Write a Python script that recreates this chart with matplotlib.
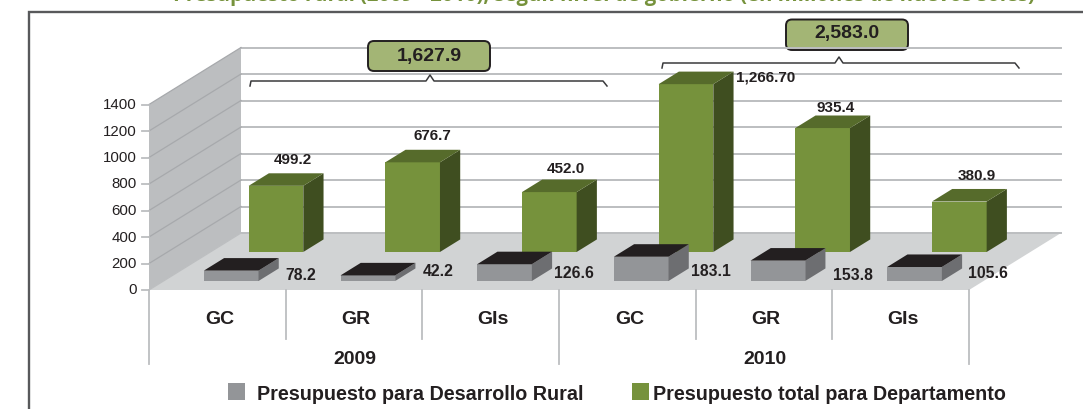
import matplotlib
matplotlib.use("Agg")
import matplotlib.pyplot as plt
from matplotlib.patches import Polygon, Rectangle, FancyBboxPatch

plt.rcParams['font.family'] = ['Liberation Sans', 'DejaVu Sans']

# ---- data ----
years = ['2009', '2010']
categories = ['GC', 'GR', 'GIs', 'GC', 'GR', 'GIs']
rural = [78.2, 42.2, 126.6, 183.1, 153.8, 105.6]
total = [499.2, 676.7, 452.0, 1266.70, 935.4, 380.9]
rural_labels = ['78.2', '42.2', '126.6', '183.1', '153.8', '105.6']
total_labels = ['499.2', '676.7', '452.0', '1,266.70', '935.4', '380.9']
y_ticks = [0, 200, 400, 600, 800, 1000, 1200, 1400]
totals_by_year = ['1,627.9', '2,583.0']
series_names = ['Presupuesto para Desarrollo Rural', 'Presupuesto total para Departamento']
title = 'Presupuesto rural (2009 - 2010), según nivel de gobierno (en millones de nuevos soles)'

# ---- colours ----
GREEN = ('#76923c', '#3f4e20', '#566b2b')
GREY = ('#939598', '#6d6e71', '#231f20')
TXT = '#231f20'
GRID = '#bcbec0'

# ---- oblique projection: slot position, value, depth -> figure pixels ----
X0, Y0, SLOT, PX_PER_UNIT, DEPTH_X, DEPTH_Y = 149, 290, 136.67, 0.1325, 92, 57
YMAX = y_ticks[-1]


def proj(slot, value=0, depth=0):
    return (X0 + SLOT * slot + DEPTH_X * depth, Y0 - PX_PER_UNIT * value - DEPTH_Y * depth)


fig = plt.figure(figsize=(10.83, 4.09), dpi=100)
ax = fig.add_axes([0, 0, 1, 1])
ax.set_xlim(0, 1083)
ax.set_ylim(409, 0)
ax.axis('off')

# frame and clipped title
ax.plot([1083, 29, 29], [11.5, 11.5, 409], color='#58595b', lw=1.7, zorder=1, solid_joinstyle='miter')
ax.text(1035, 0.8, title, color='#76923c', fontsize=14.6, fontweight='bold', ha='right', va='baseline',
        family=['Open Sans', 'DejaVu Sans'], zorder=1)

n = len(categories)
# left wall and floor
ax.add_patch(Polygon([proj(0), proj(0, YMAX), proj(0, YMAX, 1), proj(0, 0, 1)], fc=GRID, ec='none', zorder=2))
ax.add_patch(Polygon([proj(0), proj(0, 0, 1), proj(n, 0, 1), proj(n)], fc='#d1d3d4', ec='none', zorder=2))

# second badge sits beneath the top grid line
bx, by, bw, bh = 786, 19.5, 122, 30.5
ax.add_patch(FancyBboxPatch((bx + 5, by + 5), bw - 10, bh - 10, boxstyle='round,pad=5,rounding_size=6',
                            fc='#a3b575', ec=TXT, lw=1.4, zorder=2.5))
ax.text(bx + bw / 2, by + bh / 2 - 1, totals_by_year[1], ha='center', va='center', fontsize=14,
        fontweight='bold', color=TXT, zorder=9)

# grid lines and ticks
for v in y_ticks:
    ax.plot(*zip(proj(0, v, 1), proj(n, v, 1)), color=GRID, lw=1.4, zorder=3)
    ax.plot(*zip(proj(0, v, 0), proj(0, v, 1)), color='#a7a9ac' if v else GRID, lw=0.9, zorder=3)
    x, y = proj(0, v, 0)
    ax.plot([x - 7, x], [y, y], color=GRID, lw=1.3, zorder=3)
    ax.text(x - 12, y + 0.5, str(v), ha='right', va='center', fontsize=10.8, color=TXT, zorder=4)


def bar3d(slot, value, depth, colours, left):
    width, d = 0.4, 0.22
    a = proj(slot + left, 0, depth)
    b = proj(slot + left + width, 0, depth)
    c = proj(slot + left + width, value, depth)
    e = proj(slot + left, value, depth)
    bb = proj(slot + left + width, 0, depth + d)
    cb = proj(slot + left + width, value, depth + d)
    eb = proj(slot + left, value, depth + d)
    ax.add_patch(Polygon([a, b, c, e], fc=colours[0], ec='none', zorder=5))
    ax.add_patch(Polygon([b, bb, cb, c], fc=colours[1], ec='none', zorder=5))
    ax.add_patch(Polygon([e, c, cb, eb], fc=colours[2], ec='none', zorder=5))


for i in range(n):
    bar3d(i, total[i], 0.667, GREEN, 0.28)
for i in range(n):
    bar3d(i, rural[i], 0.158, GREY, 0.295)

# value labels
total_pos = [(293, 160), (432, 136), (566, 169), (736, 77), (836, 108), (977, 176)]
rural_pos = [(301, 275), (438, 272), (574, 273), (711, 271), (853, 275), (988, 273)]
for s, (x, y) in zip(total_labels, total_pos):
    ha = 'left' if s == '1,266.70' else 'center'
    ax.text(x, y, s, ha=ha, va='center', fontsize=11, fontweight='bold', color=TXT, zorder=8)
for s, (x, y) in zip(rural_labels, rural_pos):
    ax.text(x, y, s, ha='center', va='center', fontsize=11.3, fontweight='bold', color=TXT, zorder=8)

# category axis
for i in range(n + 1):
    x, y = proj(i)
    long_tick = i % 3 == 0
    ax.plot([x, x], [y, 364 if long_tick else 339], color=GRID, lw=1.3, zorder=3)
for i, c in enumerate(categories):
    ax.text(proj(i + 0.5)[0] + 2, 319.5, c, ha='center', va='center', fontsize=14, fontweight='bold', color=TXT)
for j, yr in enumerate(years):
    ax.text(proj(3 * j + 1.5)[0] + 1, 359.5, yr, ha='center', va='center', fontsize=14, fontweight='bold', color=TXT)

# brackets
for x0, ytop, xpk in [(250, 81, 430), (662, 63, 839)]:
    xs = [x0, x0 + 1, xpk - 4, xpk, xpk + 4, x0 + 353, x0 + 357]
    ys = [ytop + 5, ytop, ytop, ytop - 6, ytop, ytop, ytop + 5]
    ax.plot(xs, ys, color='#3a3a3c', lw=1.1, zorder=6)

# first badge
bx, by, bw, bh = 368, 41, 122, 30
ax.add_patch(FancyBboxPatch((bx + 5, by + 5), bw - 10, bh - 10, boxstyle='round,pad=5,rounding_size=6',
                            fc='#a3b575', ec=TXT, lw=1.4, zorder=7))
ax.text(bx + bw / 2, by + bh / 2, totals_by_year[0], ha='center', va='center', fontsize=14,
        fontweight='bold', color=TXT, zorder=9)

# legend
for sx, tx, col, name in [(228, 257, GREY[0], series_names[0]), (632, 653, GREEN[0], series_names[1])]:
    ax.add_patch(Rectangle((sx, 383), 17, 17, fc=col, ec='none', zorder=5))
    ax.text(tx, 394.5, name, ha='left', va='center', fontsize=14.2, fontweight='bold', color=TXT, zorder=5)

fig.savefig('out.png', dpi=100)
